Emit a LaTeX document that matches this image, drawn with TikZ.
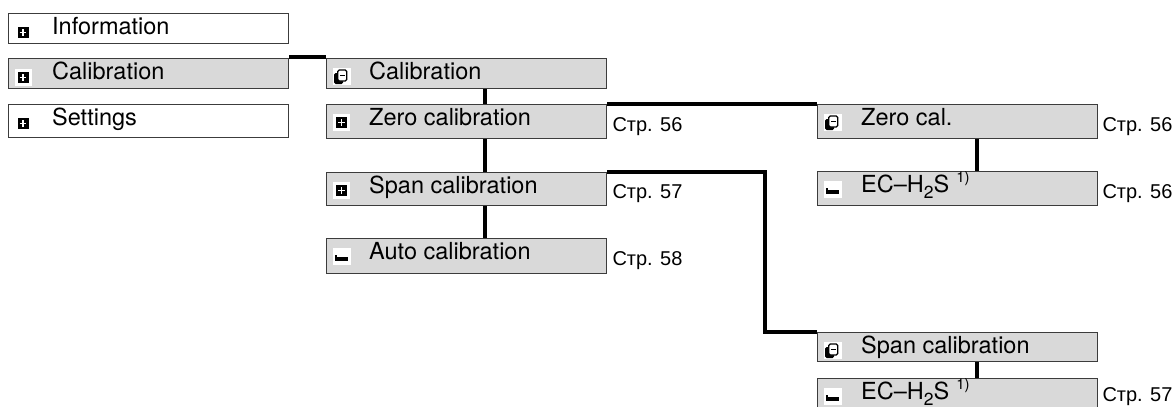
\documentclass[tikz,border=0pt]{standalone}
\usepackage{fontspec}
\setmainfont{TeX Gyre Heros}
\newfontfamily\cyrfont{Liberation Sans}
\definecolor{boxfill}{RGB}{217,217,217}
\definecolor{boxborder}{RGB}{60,60,60}
\newcommand{\ECHS}{EC\textendash H\raisebox{-6pt}{\fontsize{17.5}{20}\selectfont 2}S\hspace{7pt}\raisebox{10pt}{\fontsize{15}{17}\selectfont 1)}}
\begin{document}
\begin{tikzpicture}[x=1pt,y=-1pt,
  box/.style={draw=boxborder, line width=1.3pt, fill=boxfill, minimum width=280pt, inner sep=0pt, anchor=north west},
  wbox/.style={box, fill=white},
  txt/.style={anchor=base west, inner sep=0pt, font=\fontsize{23.5}{27}\selectfont},
  pageref/.style={anchor=base west, inner sep=0pt, font=\cyrfont\fontsize{20}{23}\selectfont},
  conn/.style={line width=4pt, black},
  plusicon/.pic={
    \fill[white] (-8.5,-8.5) rectangle (8.5,8.5);
    \fill[black] (-5.5,-5.3) rectangle (5.5,5.3);
    \draw[white,line width=1.5pt] (-3.3,0) -- (3.3,0) (0,-3.3) -- (0,3.3);
  },
  openicon/.pic={
    \fill[white] (-9,-8.5) rectangle (9,8.5);
    \fill[black, rounded corners=1.5pt] (-8,-3.5) rectangle (1,7.5);
    \draw[black, fill=white, line width=1.3pt, rounded corners=1.5pt] (-4.3,-6.5) rectangle (4.7,4.5);
    \draw[black, line width=1.3pt] (-2,-0.8) -- (2.5,-0.8);
  },
  leaficon/.pic={
    \fill[white] (-9,-8.5) rectangle (9,8.5);
    \fill[black] (-7,0.3) rectangle (6.3,4.2);
    \fill[black] (-7,-1.7) rectangle (-4.8,4.2);
  }
]
\useasboundingbox (0,0) rectangle (1173,407);
\clip (0,0) rectangle (1173,407);

% left column
\node[wbox, minimum height=30pt] (L1) at (8,13) {};
\node[box,  minimum height=30pt] (L2) at (8,58) {};
\node[wbox, minimum height=33pt] (L3) at (8,104) {};
% middle column
\node[box, minimum height=30pt] (M1) at (326,58) {};
\node[box, minimum height=34pt] (M2) at (326,104) {};
\node[box, minimum height=33pt] (M3) at (326,172) {};
\node[box, minimum height=35pt] (M4) at (326,238) {};
% right column
\node[box, minimum height=34pt] (R1) at (817,104) {};
\node[box, minimum height=34pt] (R2) at (817,171) {};
\node[box, minimum height=29pt] (R3) at (817,332) {};
\node[box, minimum height=34pt] (R4) at (817,378) {};

% texts
\node[txt] (tL1) at ([xshift=44pt,yshift=-21.5pt]L1.north west) {Information};
\node[txt] (tL2) at ([xshift=44pt,yshift=-21.5pt]L2.north west) {Calibration};
\node[txt] (tL3) at ([xshift=44pt,yshift=-21.5pt]L3.north west) {Settings};
\node[txt] (tM1) at ([xshift=43pt,yshift=-21.5pt]M1.north west) {Calibration};
\node[txt] (tM2) at ([xshift=43pt,yshift=-21.5pt]M2.north west) {Zero calibration};
\node[txt] (tM3) at ([xshift=43pt,yshift=-21.5pt]M3.north west) {Span calibration};
\node[txt] (tM4) at ([xshift=43pt,yshift=-21.5pt]M4.north west) {Auto calibration};
\node[txt] (tR1) at ([xshift=44pt,yshift=-21.5pt]R1.north west) {Zero cal.};
\node[txt] (tR2) at ([xshift=44pt,yshift=-21.5pt]R2.north west) {\ECHS};
\node[txt] (tR3) at ([xshift=44pt,yshift=-21.5pt]R3.north west) {Span calibration};
\node[txt] (tR4) at ([xshift=44pt,yshift=-21.5pt]R4.north west) {\ECHS};

% icons
\pic at ([xshift=15pt,yshift=-19.5pt]L1.north west) {plusicon};
\pic at ([xshift=15pt,yshift=-19.5pt]L2.north west) {plusicon};
\pic at ([xshift=15pt,yshift=-19.5pt]L3.north west) {plusicon};
\pic at ([xshift=16pt,yshift=-18.5pt]M1.north west) {openicon};
\pic at ([xshift=15.5pt,yshift=-18.5pt]M2.north west) {plusicon};
\pic at ([xshift=15.5pt,yshift=-18.5pt]M3.north west) {plusicon};
\pic at ([xshift=16pt,yshift=-18.5pt]M4.north west) {leaficon};
\pic at ([xshift=16pt,yshift=-18.5pt]R1.north west) {openicon};
\pic at ([xshift=16pt,yshift=-18.5pt]R2.north west) {leaficon};
\pic at ([xshift=16pt,yshift=-18.5pt]R3.north west) {openicon};
\pic at ([xshift=16pt,yshift=-18.5pt]R4.north west) {leaficon};

% page references
\node[pageref] (pM2) at ([xshift=5pt,yshift=-27.5pt]M2.north east) {Стр. 56};
\node[pageref] (pM3) at ([xshift=5pt,yshift=-26.5pt]M3.north east) {Стр. 57};
\node[pageref] (pM4) at ([xshift=5pt,yshift=-27pt]M4.north east) {Стр. 58};
\node[pageref] (pR1) at ([xshift=4pt,yshift=-27.5pt]R1.north east) {Стр. 56};
\node[pageref] (pR2) at ([xshift=4pt,yshift=-27.5pt]R2.north east) {Стр. 56};
\node[pageref] (pR4) at ([xshift=4pt,yshift=-23pt]R4.north east) {Стр. 57};

% connectors
\draw[conn] ([yshift=1.5pt]L2.north east) -- ([yshift=1.5pt]M1.north west);
\draw[conn] ([xshift=159pt]M1.south west) -- ([xshift=159pt]M2.north west);
\draw[conn] ([xshift=159pt]M2.south west) -- ([xshift=159pt]M3.north west);
\draw[conn] ([xshift=159pt]M3.south west) -- ([xshift=159pt]M4.north west);
\draw[conn] (M2.north east) -- (R1.north west);
\draw[conn] (M3.north east) -| ([xshift=-52pt]R3.north west) -- (R3.north west);
\draw[conn] ([xshift=160pt]R1.south west) -- ([xshift=160pt]R2.north west);
\draw[conn] ([xshift=160pt]R3.south west) -- ([xshift=160pt]R4.north west);
\end{tikzpicture}
\end{document}
